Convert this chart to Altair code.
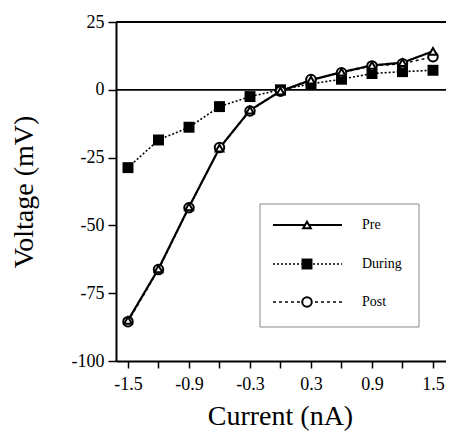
import altair as alt
import pandas as pd

# Data
current = [-1.5, -1.2, -0.9, -0.6, -0.3, 0.0, 0.3, 0.6, 0.9, 1.2, 1.5]
pre = [-85.0, -66.0, -43.2, -21.5, -7.5, -0.5, 3.6, 6.5, 9.0, 10.0, 14.2]
during = [-28.7, -18.5, -13.8, -6.2, -2.5, 0.0, 2.2, 3.9, 6.0, 6.7, 7.2]
post = [-85.5, -66.3, -43.5, -21.3, -7.8, -0.5, 3.8, 6.3, 8.8, 9.6, 12.2]
series_names = ["Pre", "During", "Post"]
y_ticks = [-100, -75, -50, -25, 0, 25]

FONT = "Liberation Serif"

rows = []
for name, vals in zip(series_names, [pre, during, post]):
    for c, v in zip(current, vals):
        rows.append({"current": c, "voltage": v, "series": name})
df = pd.DataFrame(rows)

xscale = alt.Scale(domain=[-1.618, 1.628], nice=False, zero=False)
yscale = alt.Scale(domain=[-100, 25], nice=False, zero=False)

xaxis = alt.Axis(
    values=current,
    labelExpr="abs(round(datum.value * 10)) % 6 == 3 ? (datum.value < 0 ? '-' : '') + format(abs(datum.value), '.1f') : ''",
    grid=False, tickSize=7, tickWidth=1.5, tickColor="black",
    domainColor="black", domainWidth=2,
    labelFont=FONT, labelFontSize=18, labelColor="black", labelPadding=7,
    labelFlush=False, labelOverlap=False,
    title="Current (nA)", titleFont=FONT, titleFontSize=28, titleFontWeight="normal",
    titleColor="black", titleX=164, titleY=63, titleBaseline="alphabetic",
)
yaxis = alt.Axis(
    values=y_ticks,
    labelExpr="(datum.value < 0 ? '-' : '') + format(abs(datum.value), 'd')",
    grid=False, tickSize=8, tickWidth=1.5, tickColor="black",
    domainColor="black", domainWidth=2,
    labelFont=FONT, labelFontSize=18, labelColor="black", labelPadding=4,
    labelFlush=False, labelOverlap=False,
    title="Voltage (mV)", titleFont=FONT, titleFontSize=28, titleFontWeight="normal",
    titleColor="black", titleX=-92, titleBaseline="middle",
)

base = alt.Chart(df)
X = alt.X("current:Q", scale=xscale, axis=xaxis)
Y = alt.Y("voltage:Q", scale=yscale, axis=yaxis)

# reference lines: zero line and top frame line
ref = pd.DataFrame({"voltage": [0, 25]})
ref_rules = alt.Chart(ref).mark_rule(color="black", strokeWidth=1.8).encode(y=Y)

line_styles = {
    "Pre": dict(strokeWidth=2.2, strokeDash=[1, 0]),
    "During": dict(strokeWidth=1.6, strokeDash=[2, 2]),
    "Post": dict(strokeWidth=1.4, strokeDash=[3, 3]),
}
point_styles = {
    "Pre": dict(shape="triangle-up", size=60, filled=True, fill="white", stroke="black", strokeWidth=2, opacity=1),
    "During": dict(shape="square", size=120, filled=True, fill="black", stroke="black", strokeWidth=0, opacity=1),
    "Post": dict(shape="circle", size=90, filled=True, fill="white", stroke="black", strokeWidth=2, opacity=1),
}

layers = []
for name in series_names:
    layers.append(
        base.transform_filter(alt.datum.series == name)
        .mark_line(color="black", **line_styles[name])
        .encode(x=X, y=Y)
    )
layers.append(ref_rules)
for name in ["During", "Post", "Pre"]:
    layers.append(
        base.transform_filter(alt.datum.series == name)
        .mark_point(**point_styles[name])
        .encode(x=X, y=Y)
    )

# custom legend (box + sample line + marker + label)
leg = pd.DataFrame({"series": series_names})
box = alt.Chart(leg.head(1)).mark_rect(fill="white", stroke="#888", strokeWidth=1).encode(
    x=alt.value(144), x2=alt.value(303), y=alt.value(182), y2=alt.value(305)
)
layers.append(box)
leg_y = {"Pre": 203, "During": 242, "Post": 280}
for name in series_names:
    d = alt.Chart(pd.DataFrame({"series": [name]}))
    layers.append(
        d.mark_rule(color="black", **line_styles[name]).encode(
            x=alt.value(157), x2=alt.value(226), y=alt.value(leg_y[name])
        )
    )
    layers.append(
        d.mark_point(**point_styles[name]).encode(
            x=alt.value(191), y=alt.value(leg_y[name])
        )
    )
    layers.append(
        d.mark_text(font=FONT, fontSize=14, align="left", baseline="middle", color="black").encode(
            x=alt.value(246), y=alt.value(leg_y[name]), text="series:N"
        )
    )

chart = alt.layer(*layers).properties(
    width=330, height=339,
    autosize=alt.AutoSizeParams(type="none"),
    padding={"left": 108, "top": 14, "right": 0, "bottom": 71},
    background="white",
).configure_view(stroke=None)

chart.save("out.html", embed_options={"renderer": "svg", "actions": False})
